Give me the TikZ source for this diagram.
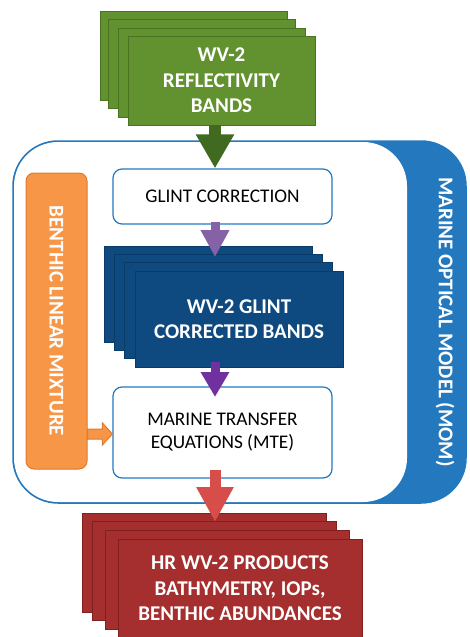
\documentclass[tikz,border=0pt]{standalone}
\usepackage{fontspec}
\setmainfont{Carlito}
\usetikzlibrary{arrows.meta,calc}
\definecolor{grn}{HTML}{62922F}
\definecolor{grnd}{HTML}{4A7222}
\definecolor{grna}{HTML}{3F6A1F}
\definecolor{dblue}{HTML}{0E4A7F}
\definecolor{dblued}{HTML}{0A3A66}
\definecolor{obl}{HTML}{2478BD}
\definecolor{rd}{HTML}{A52E2E}
\definecolor{rdd}{HTML}{7E2020}
\definecolor{rda}{HTML}{D64D4A}
\definecolor{pl}{HTML}{8562A6}
\definecolor{pd}{HTML}{7030A0}
\definecolor{org}{HTML}{F79646}
\definecolor{orgd}{HTML}{E07A2C}
\tikzset{
  gtile/.style={draw=grnd, fill=grn, line width=0.8pt, minimum width=187pt, minimum height=89pt, inner sep=0pt},
  btile/.style={draw=dblued, fill=dblue, line width=0.6pt, minimum width=208pt, minimum height=96pt, inner sep=0pt},
  rtile/.style={draw=rdd, fill=rd, line width=0.8pt, minimum width=244pt, minimum height=99pt, inner sep=0pt},
  wtext/.style={text=white, font=\bfseries\fontsize{21}{25.5}\selectfont, align=center},
  vtext/.style={text=white, font=\bfseries\fontsize{21}{22}\selectfont, rotate=-90},
  procbox/.style={draw=obl, fill=white, line width=1.2pt, rounded corners=9pt, minimum width=219pt, inner sep=0pt, align=center, font=\fontsize{19.3}{23}\selectfont}
}
\begin{document}
\begin{tikzpicture}[x=1pt,y=-1pt]
\useasboundingbox (0,0) rectangle (469,637);
\coordinate (ax) at (215,0);
% outer container
\draw[obl, fill=obl, line width=1.5pt, rounded corners=45pt] (13,141) rectangle (466,503);
\fill[white, rounded corners=44pt] (14,142) rectangle (407,502);
\node[vtext] (mom) at (445,322) {MARINE OPTICAL MODEL (MOM)};
% green stack
\node[gtile] (g1) at (193.5,56) {};
\node[gtile] (g2) at (202,64) {};
\node[gtile] (g3) at (211.5,72.5) {};
\node[gtile, wtext] (green) at (221.5,80.5) {WV-2\\REFLECTIVITY\\BANDS};
% glint correction
\node[procbox, minimum height=55pt] (glint) at (222.5,196.5) {GLINT CORRECTION};
% blue stack
\node[btile] (b1) at (208,294.5) {};
\node[btile] (b2) at (218,302) {};
\node[btile] (b3) at (228.5,310.5) {};
\node[btile, wtext] (bf) at (239,319) {WV-2 GLINT\\CORRECTED BANDS};
% MTE
\node[procbox, minimum height=91pt] (mte) at (222.5,432.5) {MARINE TRANSFER\\EQUATIONS (MTE)};
% orange
\node[draw=orgd, fill=org, line width=1pt, rounded corners=8pt, minimum width=61pt, minimum height=296pt, inner sep=0pt] (orange) at (56.5,321) {};
\node[vtext] (ortext) at (orange.center) {BENTHIC LINEAR MIXTURE};
% red stack
\node[rtile] (r1) at (204,562.5) {};
\node[rtile] (r2) at (214.5,571) {};
\node[rtile] (r3) at (227,579.5) {};
\node[rtile, wtext] (red) at (240,588.5) {HR WV-2 PRODUCTS\\BATHYMETRY, IOPs,\\BENTHIC ABUNDANCES};
% arrows
\coordinate (ptip1) at (215,257);
\coordinate (ptip2) at (215,397);
\coordinate (rtip) at (215,522);
\draw[grna, line width=12pt, -{Triangle[width=36pt,length=34pt]}] (green.south -| ax) -- (glint.north -| ax);
\draw[pl, line width=9pt, -{Triangle[width=27pt,length=27pt]}] ($(glint.south -| ax)+(0,-3)$) -- (ptip1);
\draw[pd, line width=9pt, -{Triangle[width=27pt,length=25pt]}] ($(bf.south -| ax)+(0,-5)$) -- (ptip2);
\draw[rda, line width=11pt, -{Triangle[width=35pt,length=35pt]}] ($(mte.south -| ax)+(0,-9)$) -- (rtip);
% orange arrow
\coordinate (oa) at (orange.east |- 0,434);
\coordinate (ob) at (mte.west |- 0,434);
\draw[orgd, fill=org, line width=1pt, line join=miter]
  ($(oa)+(0,-5)$) -- ($(ob)+(-10,-5)$) -- ($(ob)+(-10,-11)$) -- (ob) -- ($(ob)+(-10,11)$) -- ($(ob)+(-10,5)$) -- ($(oa)+(0,5)$) -- cycle;
\end{tikzpicture}
\end{document}
